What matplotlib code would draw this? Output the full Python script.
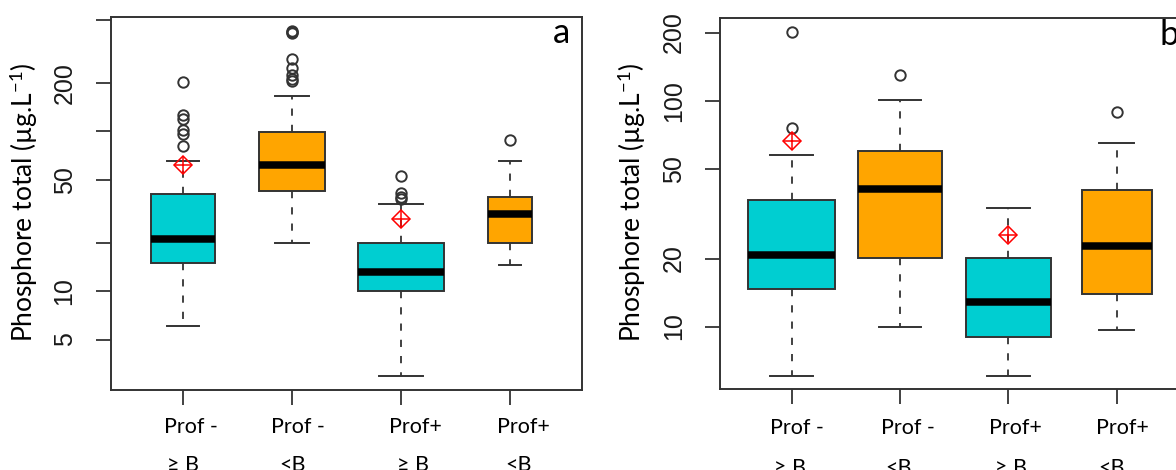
import numpy as np
import matplotlib
matplotlib.use("Agg")
import matplotlib.pyplot as plt
from matplotlib import transforms
from matplotlib.ticker import FixedLocator, FixedFormatter, NullLocator

plt.rcParams['mathtext.fontset'] = 'custom'
plt.rcParams['mathtext.rm'] = 'Lato'
plt.rcParams['mathtext.it'] = 'Lato:italic'

# Categories (same for both panels)
cat_line1 = ["Prof -", "Prof -", "Prof+", "Prof+"]
cat_line2 = ["≥ B", "<B", "≥ B", "<B"]
box_colors = ["darkturquoise", "orange", "darkturquoise", "orange"]

# Panel a
q1_a = [15.1, 42.7, 10.0, 20.0]
med_a = [21.3, 61.3, 13.3, 30.3]
q3_a = [40.5, 99.0, 20.0, 38.7]
whislo_a = [6.07, 20.1, 2.95, 14.6]
whishi_a = [65.3, 167.0, 35.1, 65.2]
fliers_a = [[81.0, 97.0, 102.0, 120.0, 127.0, 203.0],
            [207.0, 213.0, 225.0, 251.0, 283.0, 415.0, 421.0, 426.0],
            [37.7, 39.0, 41.0, 52.5],
            [88.0]]
mean_a = [61.6, np.nan, 28.4, np.nan]
yticks_a = [5, 10, 20, 50, 100, 200, 500]
yticklabels_a = ["5", "10", "", "50", "", "200", ""]

# Panel b
q1_b = [14.6, 20.1, 9.0, 13.95]
med_b = [20.8, 40.5, 12.8, 22.7]
q3_b = [36.4, 59.9, 20.1, 40.4]
whislo_b = [6.07, 10.0, 6.07, 9.7]
whishi_b = [57.5, 100.7, 33.3, 65.0]
fliers_b = [[75.5, 202.0], [130.0], [], [88.9]]
mean_b = [66.5, np.nan, 25.4, np.nan]
yticks_b = [10, 20, 50, 100, 200]
yticklabels_b = ["10", "20", "50", "100", "200"]

# box widths (varwidth look of the R plot)
widths_a = [0.59, 0.61, 0.79, 0.41]
widths_b = [0.80, 0.77, 0.78, 0.65]

edge = "#333333"
W, H = 1176, 470
fig = plt.figure(figsize=(W / 100, H / 100), dpi=100)

ax_a = fig.add_axes([111 / W, 1 - 390 / H, 471 / W, 373 / H])
ax_b = fig.add_axes([720.3 / W, 1 - 389.3 / H, 467.9 / W, 371.5 / H])


def boxplot_panel(ax, q1, med, q3, lo, hi, fliers, means, widths, yt, ytl):
    stats = []
    for i in range(len(med)):
        stats.append(dict(med=med[i], q1=q1[i], q3=q3[i], whislo=lo[i],
                          whishi=hi[i], fliers=fliers[i]))
    pos = np.arange(1, len(med) + 1)
    bp = ax.bxp(stats, positions=pos, widths=widths, patch_artist=True,
                capwidths=[w / 2 for w in widths],
                boxprops=dict(edgecolor=edge, linewidth=1.4),
                whiskerprops=dict(color=edge, linewidth=1.3, linestyle=(0, (4, 5))),
                capprops=dict(color=edge, linewidth=1.4),
                medianprops=dict(color="black", linewidth=5.4, solid_capstyle="butt"),
                flierprops=dict(marker="o", markerfacecolor="none",
                                markeredgecolor=edge, markersize=7.5,
                                markeredgewidth=1.4))
    for patch, c in zip(bp["boxes"], box_colors):
        patch.set_facecolor(c)
    # means: red diamond with a plus inside
    ax.plot(pos, means, linestyle="none", marker="D", markersize=9.5,
            markerfacecolor="none", markeredgecolor="red", markeredgewidth=1.1, zorder=5)
    ax.plot(pos, means, linestyle="none", marker="+", markersize=13.5,
            markeredgecolor="red", markeredgewidth=1.1, zorder=5)

    ax.set_yscale("log")
    allv = list(lo) + list(hi) + [v for f in fliers for v in f]
    lmin, lmax = np.log10(min(allv)), np.log10(max(allv))
    pad = 0.04 * (lmax - lmin)
    ax.set_ylim(10 ** (lmin - pad), 10 ** (lmax + pad))
    n = len(med)
    ax.set_xlim(0.5 - 0.04 * n, n + 0.5 + 0.04 * n)

    ax.yaxis.set_major_locator(FixedLocator(yt))
    ax.yaxis.set_major_formatter(FixedFormatter(ytl))
    ax.yaxis.set_minor_locator(NullLocator())
    ax.set_xticks(pos)
    ax.set_xticklabels([])
    ax.tick_params(axis="both", direction="out", length=10.8, width=1.3,
                   color=edge, labelcolor="#1a1a1a", labelsize=18)
    ax.tick_params(axis="y", pad=14)
    for lab in ax.get_yticklabels():
        lab.set_rotation(90)
        lab.set_va("center")
        lab.set_fontfamily("Liberation Sans")
    for sp in ax.spines.values():
        sp.set_color(edge)
        sp.set_linewidth(1.4)


boxplot_panel(ax_a, q1_a, med_a, q3_a, whislo_a, whishi_a, fliers_a, mean_a,
              widths_a, yticks_a, yticklabels_a)
boxplot_panel(ax_b, q1_b, med_b, q3_b, whislo_b, whishi_b, fliers_b, mean_b,
              widths_b, yticks_b, yticklabels_b)

# category labels below each panel (two lines, pixel offsets from ticks)
txt_font = ["Lato", "DejaVu Sans"]
offs = {
    "a": ([8, 6, 14, 13], [0, 1, 12, 8], 433, 471),
    "b": ([5, 8, 7, 6], [-2, -2, 3, -5], 434, 474),
}
for ax, key in [(ax_a, "a"), (ax_b, "b")]:
    d1, d2, y1, y2 = offs[key]
    base = transforms.blended_transform_factory(ax.transData, fig.transFigure)
    for i in range(len(cat_line1)):
        t1 = transforms.offset_copy(base, fig=fig, x=d1[i], y=0, units="dots")
        t2 = transforms.offset_copy(base, fig=fig, x=d2[i], y=0, units="dots")
        fig.text(i + 1, 1 - y1 / H, cat_line1[i], transform=t1, ha="center",
                 va="baseline", fontsize=15.5, family=txt_font, color="black")
        fig.text(i + 1, 1 - y2 / H, cat_line2[i], transform=t2, ha="center",
                 va="baseline", fontsize=15.5, family=txt_font, color="black")

# y axis titles
ylab = "Phosphore total (µg.L$^{-1}$)"
fig.text(24 / W, 1 - 202 / H, ylab, rotation=90, ha="center", va="center",
         fontsize=19, family=txt_font)
fig.text(632 / W, 1 - 202 / H, ylab, rotation=90, ha="center", va="center",
         fontsize=19, family=txt_font)

# panel letters
fig.text(562 / W, 1 - 43 / H, "a", ha="center", va="baseline", fontsize=25, family=txt_font)
fig.text(1159 / W, 1 - 45 / H, "b", ha="left", va="baseline", fontsize=25, family=txt_font)

fig.savefig("out.png", dpi=100)
